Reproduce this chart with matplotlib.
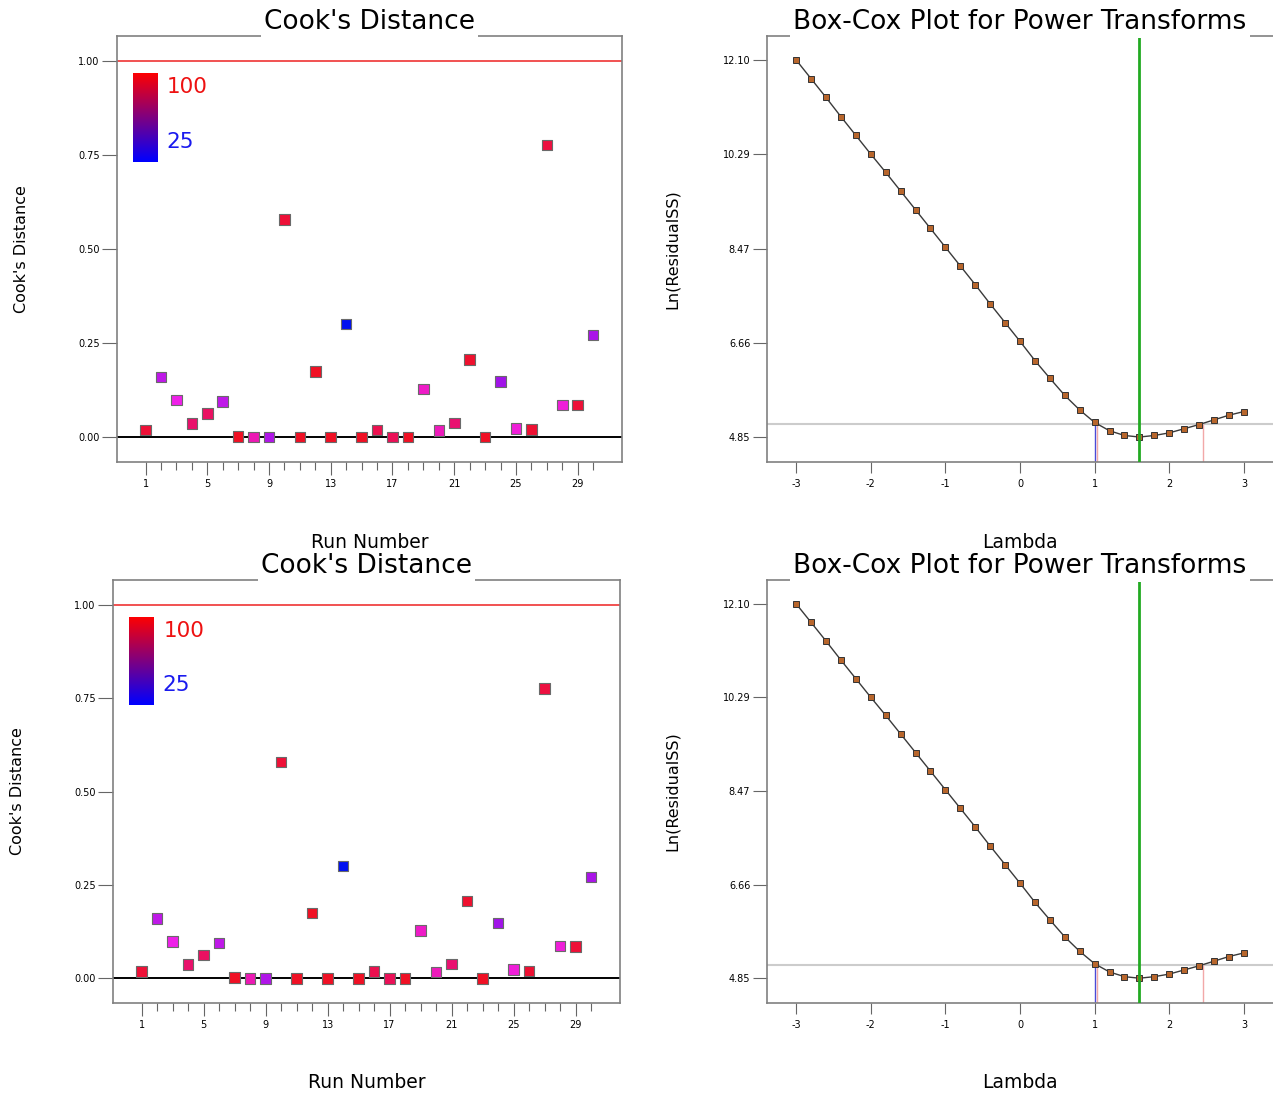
import numpy as np
import matplotlib
matplotlib.use("Agg")
import matplotlib.pyplot as plt
from matplotlib.colors import LinearSegmentedColormap, Normalize

# ---- data ----
runs = list(range(1, 31))
cooks_d = [0.019, 0.160, 0.099, 0.037, 0.063, 0.095, 0.002, 0.000, 0.000, 0.579,
           0.000, 0.175, 0.000, 0.301, 0.000, 0.019, 0.000, 0.000, 0.128, 0.017,
           0.038, 0.207, 0.000, 0.148, 0.023, 0.020, 0.776, 0.086, 0.085, 0.271]
# colour scale value of each run (25 = blue ... 100 = red)
color_vals = [95, 53, 62, 84, 86, 53, 99, 71, 50, 95,
              99, 99, 99, 25, 99, 90, 88, 99, 68, 70,
              83, 97, 99, 47, 65, 96, 93, 65, 95, 49]
run_ticks = [1, 5, 9, 13, 17, 21, 25, 29]
cook_ticks = [0.0, 0.25, 0.5, 0.75, 1.0]
cook_labels = ["0.00", "0.25", "0.50", "0.75", "1.00"]
scale_lo, scale_hi = 25, 100

lambdas = [-3.0, -2.8, -2.6, -2.4, -2.2, -2.0, -1.8, -1.6, -1.4, -1.2, -1.0,
           -0.8, -0.6, -0.4, -0.2, 0.0, 0.2, 0.4, 0.6, 0.8, 1.0,
           1.2, 1.4, 1.6, 1.8, 2.0, 2.2, 2.4, 2.6, 2.8, 3.0]
ln_rss = [12.10, 11.74, 11.38, 11.01, 10.65, 10.29, 9.94, 9.58, 9.22, 8.86, 8.50,
          8.14, 7.78, 7.41, 7.05, 6.69, 6.32, 5.98, 5.65, 5.37, 5.13,
          4.97, 4.88, 4.85, 4.88, 4.93, 5.01, 5.09, 5.18, 5.27, 5.34]
lam_ticks = [-3, -2, -1, 0, 1, 2, 3]
lam_labels = ["-3", "-2", "-1", "0", "1", "2", "3"]
rss_ticks = [4.85, 6.66, 8.47, 10.29, 12.10]
rss_labels = ["4.85", "6.66", "8.47", "10.29", "12.10"]
best_lambda = 1.59
current_lambda = 1.0
ci_low, ci_high = 1.03, 2.45
ci_level = 5.10

W, H = 1273, 1093
fig = plt.figure(figsize=(W / 100, H / 100), dpi=100)

point_cmap = LinearSegmentedColormap.from_list(
    "pts", ["#0010f0", "#9010e8", "#f020e8", "#e81078", "#f01020"])
bar_cmap = LinearSegmentedColormap.from_list("bar", ["#0000ff", "#ff0000"])
norm = Normalize(scale_lo, scale_hi)
spine_col = "#808080"
tick_col = "#666666"


def add_ax(x0, x1, y0, y1):
    return fig.add_axes([x0 / W, 1 - y1 / H, (x1 - x0) / W, (y1 - y0) / H])


def decorate(ax, title, xlabel, ylabel, wpx, hpx):
    for s in ax.spines.values():
        s.set_color(spine_col)
        s.set_linewidth(1.2)
    ax.text(0.5, 1 + 14 / hpx, title, transform=ax.transAxes, ha="center",
            va="center", fontsize=19, zorder=6, clip_on=False,
            bbox=dict(fc="white", ec="none", pad=2))
    ax.text(0.5, -80 / hpx, xlabel, transform=ax.transAxes, ha="center",
            va="center", fontsize=13.5)
    ax.text(-95 / wpx, 0.5, ylabel, transform=ax.transAxes, ha="center",
            va="center", rotation=90, fontsize=11.5)


def cooks_panel(x0, x1, y0, y1):
    ax = add_ax(x0, x1, y0, y1)
    wpx, hpx = x1 - x0, y1 - y0
    ax.set_xlim(-0.85, 31.87)
    ax.set_ylim(-0.066, 1.066)
    ax.axhline(1.0, color="#ee2222", lw=1.1, zorder=1)
    ax.axhline(0.0, color="black", lw=1.4, zorder=1)
    ax.scatter(runs, cooks_d, c=color_vals, cmap=point_cmap, norm=norm,
               marker="s", s=58, edgecolors="#6a6a6a", linewidths=0.8, zorder=3)
    ax.set_xticks(run_ticks)
    ax.set_xticks(runs, minor=True)
    ax.set_yticks(cook_ticks, cook_labels)
    ax.tick_params(axis="x", which="major", length=9, width=0.8, color=tick_col,
                   labelsize=7, pad=3)
    ax.tick_params(axis="x", which="minor", length=5.5, width=0.8, color=tick_col)
    ax.tick_params(axis="y", length=10.5, width=0.8, color=tick_col,
                   labelsize=7, pad=2)
    # colour scale
    cax = ax.inset_axes([0.032, 0.704, 0.049, 0.209])
    cax.imshow(np.linspace(scale_hi, scale_lo, 100).reshape(-1, 1), aspect="auto",
               cmap=bar_cmap, norm=norm)
    cax.set_axis_off()
    ax.text(0.099, 0.880, str(scale_hi), transform=ax.transAxes, color="#ee1111",
            fontsize=15.5, va="center", ha="left")
    ax.text(0.097, 0.751, str(scale_lo), transform=ax.transAxes, color="#1a1aee",
            fontsize=15.5, va="center", ha="left")
    decorate(ax, "Cook's Distance", "Run Number", "Cook's Distance", wpx, hpx)


def boxcox_panel(x0, x1, y0, y1):
    ax = add_ax(x0, x1, y0, y1)
    wpx, hpx = x1 - x0, y1 - y0
    ax.set_xlim(-3.39, 3.39)
    ymin = 4.37
    ax.set_ylim(ymin, 12.56)
    ax.axhline(ci_level, color="#cccccc", lw=1.5, zorder=1)
    cur_val = np.interp(current_lambda, lambdas, ln_rss)
    ax.vlines(current_lambda, ymin, cur_val, color="#4a4ad8", lw=1, zorder=2)
    ax.vlines([ci_low, ci_high], ymin, ci_level, color="#f2a8a8", lw=1, zorder=2)
    ax.plot(lambdas, ln_rss, "-", color="#3a3a3a", lw=1, marker="s", ms=3.8,
            mfc="#b8662c", mec="#333333", mew=0.7, zorder=3)
    ax.axvline(best_lambda, color="#22aa22", lw=2, zorder=4)
    ax.set_xticks(lam_ticks, lam_labels)
    ax.set_yticks(rss_ticks, rss_labels)
    ax.tick_params(axis="x", length=8, width=0.8, color=tick_col, labelsize=7, pad=4)
    ax.tick_params(axis="y", length=10, width=0.8, color=tick_col, labelsize=7, pad=2)
    ax.spines["right"].set_visible(False)
    decorate(ax, "Box-Cox Plot for Power Transforms", "Lambda", "Ln(ResidualSS)",
             wpx, hpx)


cooks_panel(117, 622, 36, 462)
boxcox_panel(767, 1273, 36, 462)
cooks_panel(113, 620, 580, 1003)
boxcox_panel(767, 1273, 580, 1003)

fig.savefig("out.png", dpi=100)
